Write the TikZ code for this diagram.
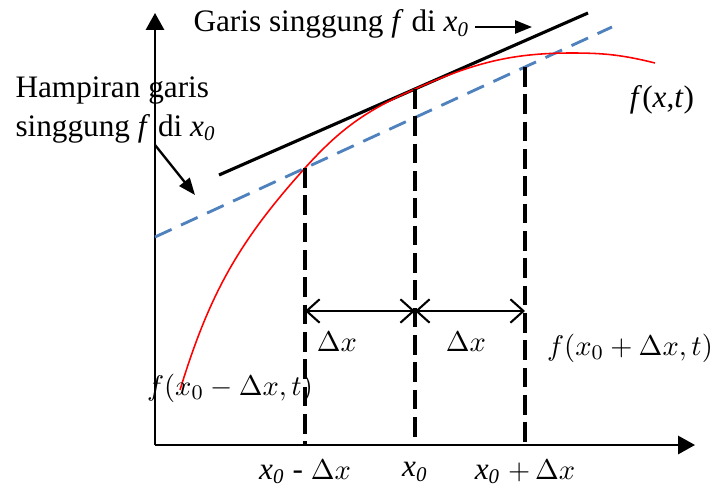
\documentclass[tikz,border=0pt]{standalone}
\usepackage{fontspec}
\setmainfont{Liberation Serif}
\usepackage{xcolor}
\usetikzlibrary{arrows.meta}
\definecolor{hampblue}{RGB}{79,129,189}

\begin{document}
\begin{tikzpicture}[x=0.384pt,y=-0.384pt,
    axis/.style={line width=0.8pt,-{Triangle[length=6.5pt,width=7pt]}},
    pointer/.style={line width=0.9pt,-{Triangle[length=6.5pt,width=5pt]}},
    guide/.style={line width=1.2pt,dash pattern=on 7.5pt off 3pt},
    delta/.style={line width=0.8pt,{Straight Barb[length=5pt,width=9pt]}-{Straight Barb[length=5pt,width=9pt]}},
    txt/.style={font=\fontsize{12}{15}\selectfont,inner sep=0pt},
    mth/.style={font=\fontsize{11}{13}\selectfont,inner sep=0pt}]
  \useasboundingbox (0,0) rectangle (714,491);

  % Axes
  \coordinate (O) at (155,445);
  \coordinate (ytop) at (155,13);
  \coordinate (xend) at (695,445);
  \draw[axis] (O) -- (ytop);
  \draw[axis] (O) -- (xend);

  % Points on the curve and on the axis
  \coordinate (pl) at (305,168);
  \coordinate (pm) at (415,89);
  \coordinate (pr) at (525,67);
  \coordinate (bl) at (305,445);
  \coordinate (bm) at (415,445);
  \coordinate (br) at (525,445);

  % Tangent line (black) and its approximation (blue dashed)
  \coordinate (ta) at (219,175);
  \coordinate (tb) at (588,13);
  \draw[line width=1.2pt] (ta) -- (tb);
  \coordinate (ha) at (155,237);
  \coordinate (hb) at (612,27);
  \draw[hampblue, line width=1.1pt, dash pattern=on 7pt off 4pt] (ha) -- (hb);

  % The function f(x,t)
  \coordinate (fa) at (180,390);
  \coordinate (ftop) at (572,53);
  \coordinate (fe) at (655,63);
  \draw[red, line width=0.6pt] (fa) to[out=73,in=228] (pl)
    to[out=48,in=203.7] (pm) to[out=23.7,in=180] (ftop)
    to[out=0,in=166] (fe);

  % Vertical guides
  \draw[guide] (pl) -- (bl);
  \draw[guide] (pm) -- (bm);
  \draw[guide] (pr) -- (br);

  % Delta x spans
  \coordinate (al) at (305,311);
  \coordinate (am) at (415,311);
  \coordinate (ar) at (525,311);
  \draw[delta] (al) -- (am);
  \draw[delta] (am) -- (ar);
  \node[mth] (dl) at (337,342) {$\Delta x$};
  \node[mth] (dr) at (466,342) {$\Delta x$};

  % Labels of the curve
  \node[txt] (fxt) at (662,100) {\textit{f}(\textit{x},\textit{t})};
  \node[mth] (fplus) at (630,348) {$f(x_0+\Delta x,t)$};
  \node[mth] (fminus) at (230,388) {$f(x_0-\Delta x,t)$};

  % Axis labels
  \node[txt] (xl) at (305,472) {\textit{x}\textsubscript{\textit{0}} - {\fontsize{11}{13}\selectfont$\Delta x$}};
  \node[txt] (xm) at (415,472) {\textit{x}\textsubscript{\textit{0}}};
  \node[txt] (xr) at (525,472) {\textit{x}\textsubscript{\textit{0}} {\fontsize{11}{13}\selectfont$+\,\Delta x$}};

  % Annotations
  \node[txt, anchor=west] (garis) at (193,24)
    {Garis singgung \textit{f} di \textit{x}\textsubscript{\textit{0}}};
  \coordinate (ga) at (475,27);
  \coordinate (gb) at (532,27);
  \draw[pointer] (ga) -- (gb);
  \node[txt, anchor=north west, align=left] (hamp) at (15,76)
    {Hampiran garis\\singgung \textit{f} di \textit{x}\textsubscript{\textit{0}}};
  \coordinate (hpa) at (155,145);
  \coordinate (hpb) at (195,195);
  \draw[pointer] (hpa) -- (hpb);
\end{tikzpicture}
\end{document}
